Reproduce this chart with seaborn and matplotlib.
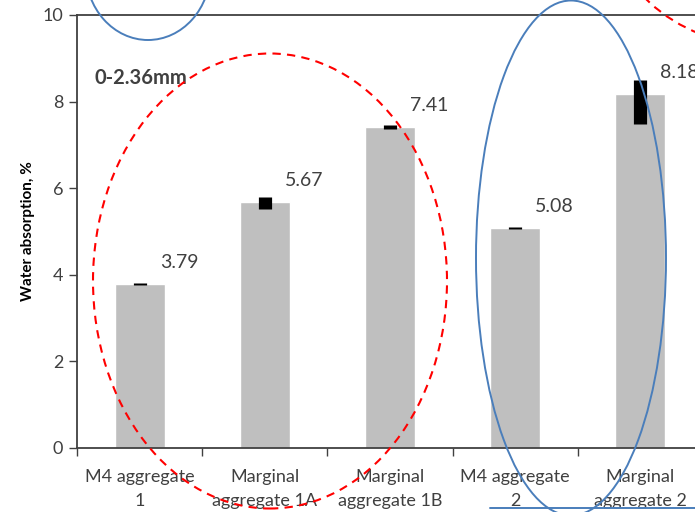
import numpy as np
import matplotlib
matplotlib.use("Agg")
import matplotlib.pyplot as plt
import seaborn as sns
from matplotlib.patches import Ellipse
from matplotlib.lines import Line2D

# chart data
categories = ["M4 aggregate\n1", "Marginal\naggregate 1A", "Marginal\naggregate 1B",
              "M4 aggregate\n2", "Marginal\naggregate 2"]
absorption = [3.79, 5.67, 7.41, 5.08, 8.18]
err_low = [0.02, 0.16, 0.05, 0.02, 0.70]
err_high = [0.02, 0.12, 0.05, 0.02, 0.32]
yticks = [0, 2, 4, 6, 8, 10]
size_label = "0-2.36mm"

sns.set_style("white")
plt.rcParams['font.family'] = ['Lato', 'DejaVu Sans']

W, H = 695, 512
fig = plt.figure(figsize=(W / 100, H / 100), dpi=100)
ax = fig.add_axes([77 / W, 1 - 448 / H, 626 / W, 433 / H])

sns.barplot(x=categories, y=absorption, color="#bfbfbf", width=0.4,
            saturation=1, ax=ax)

centers = [p.get_x() + p.get_width() / 2 for p in ax.patches]
ax.errorbar(centers, absorption, yerr=[err_low, err_high], fmt="none",
            ecolor="black", elinewidth=9.5, capsize=0)

for xc, v in zip(centers, absorption):
    ax.text(xc + 0.16, v + 0.5, f"{v:.2f}", fontsize=14, color="#404040",
            ha="left", va="center")

ax.text(0.028, 0.855, size_label, transform=ax.transAxes, fontsize=14.5,
        fontweight="bold", color="#404040", va="center")

ax.set_xlim(-0.5, 4.5)
ax.set_ylim(0, 10)
ax.set_yticks(yticks)
ax.set_ylabel("Water absorption, %", fontsize=11, fontweight="bold",
              color="black", labelpad=5)

ax.set_xticks(range(len(categories)))
ax.set_xticklabels(categories, fontsize=13, color="#404040", linespacing=1.6)
ax.set_xticks(np.arange(-0.5, 4.6, 1), minor=True)
ax.tick_params(axis="x", which="major", length=0, pad=15)
ax.tick_params(axis="x", which="minor", length=6, width=1, color="#404040",
               direction="out", bottom=True)
ax.tick_params(axis="y", length=6, width=1, color="#404040", direction="out",
               left=True, labelsize=13, labelcolor="#404040", pad=4)

for side in ["left", "bottom", "top"]:
    ax.spines[side].set_color("#404040")
    ax.spines[side].set_linewidth(1.3)
ax.spines["right"].set_visible(False)


def ell(cx, cy, w, h, **kw):
    e = Ellipse((cx / W, 1 - cy / H), w / W, h / H, transform=fig.transFigure,
                fill=False, clip_on=False, **kw)
    fig.add_artist(e)


blue = "#4a7ebb"
red = "#ff0000"
ell(270, 281, 354, 455, edgecolor=red, linestyle=(0, (4, 3)), linewidth=1.5)
ell(571, 258, 190, 515, edgecolor=blue, linewidth=1.4)
ell(148, -30, 125, 140, edgecolor=blue, linewidth=1.4)
ell(760, -100, 312, 290, edgecolor=red, linestyle=(0, (4, 3)), linewidth=1.5)
fig.add_artist(Line2D([490 / W, 1.0], [1 - 508 / H, 1 - 508 / H],
                      transform=fig.transFigure, color=blue, linewidth=1.4))

fig.savefig("out.png", dpi=100)
